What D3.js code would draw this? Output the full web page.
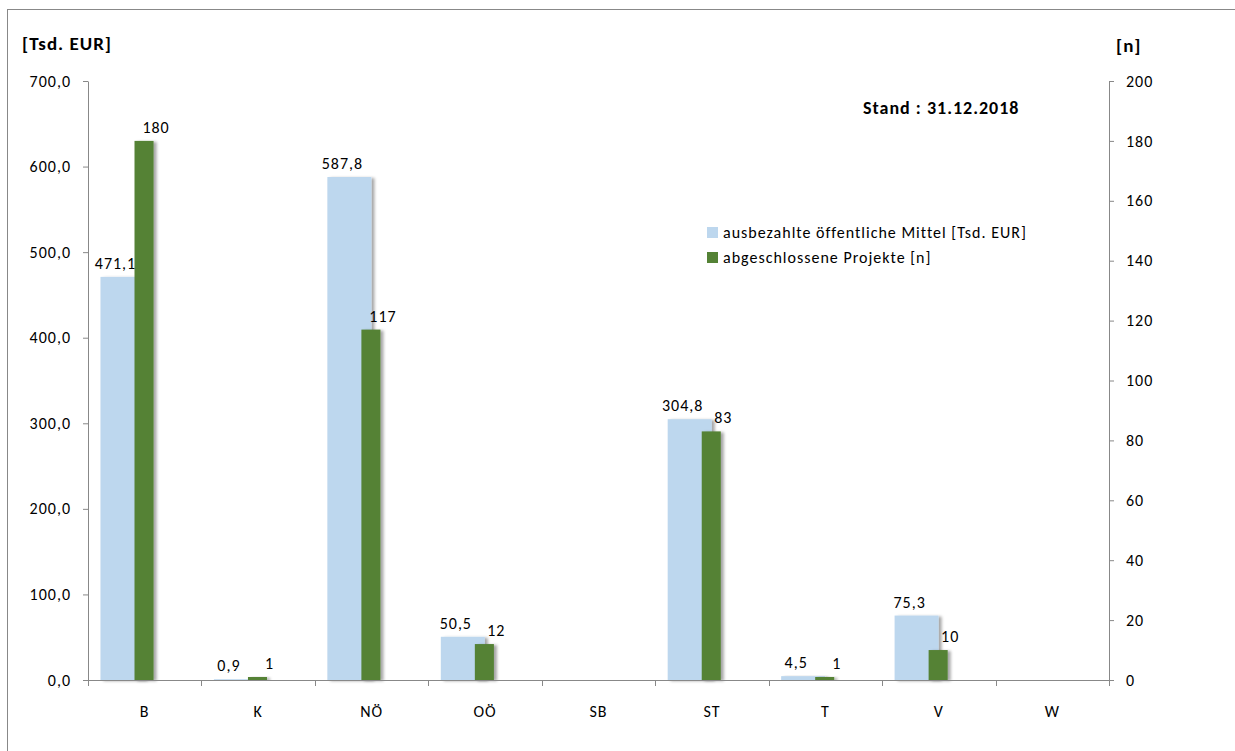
<!DOCTYPE html>
<html>
<head>
<meta charset="utf-8">
<script src="https://cdn.jsdelivr.net/npm/d3@7"></script>
<style>
  html, body { margin: 0; padding: 0; background: #fff; }
  svg { display: block; }
  text { font-family: Carlito, Calibri, Lato, "Open Sans", sans-serif; fill: #000; letter-spacing: 1px; }
</style>
</head>
<body>
<svg id="chart" width="1235" height="751"></svg>
<script>
// ---- data ----
const categories = ["B", "K", "NÖ", "OÖ", "SB", "ST", "T", "V", "W"];
const mittel = [471.1, 0.9, 587.8, 50.5, null, 304.8, 4.5, 75.3, null];   // Tsd. EUR (left axis)
const projekte = [180, 1, 117, 12, null, 83, 1, 10, null];                   // n (right axis)
const leftTicks = [0, 100, 200, 300, 400, 500, 600, 700];
const rightTicks = [0, 20, 40, 60, 80, 100, 120, 140, 160, 180, 200];
const seriesNames = ["ausbezahlte öffentliche Mittel [Tsd. EUR]", "abgeschlossene Projekte [n]"];
const leftTitle = "[Tsd. EUR]";
const rightTitle = "[n]";
const standText = "Stand : 31.12.2018";

// ---- layout / style ----
const colBlue = "#BDD7EE", colGreen = "#548235", axisCol = "#888888";
const plot = { left: 88, right: 1109, top: 81, bottom: 680 };
const fs = 16;

const de = d3.formatLocale({ decimal: ",", thousands: ".", grouping: [3], currency: ["", " €"] });
const f1 = de.format(".1f");
const f0 = de.format("d");

const svg = d3.select("#chart");

// drop shadow
const defs = svg.append("defs");
const flt = defs.append("filter").attr("id", "sh").attr("x", "-20%").attr("y", "-20%").attr("width", "160%").attr("height", "140%");
flt.append("feDropShadow").attr("dx", 3).attr("dy", 1).attr("stdDeviation", 1.6)
   .attr("flood-color", "#000").attr("flood-opacity", 0.35);

// outer frame
svg.append("rect").attr("x", 7.5).attr("y", 9.5).attr("width", 1250).attr("height", 760)
   .attr("fill", "none").attr("stroke", axisCol).attr("stroke-width", 1);

const x = d3.scaleBand().domain(categories).range([plot.left, plot.right]).padding(0);
const yL = d3.scaleLinear().domain([0, 700]).range([plot.bottom, plot.top]);
const yR = d3.scaleLinear().domain([0, 200]).range([plot.bottom, plot.top]);
const bw = x.bandwidth();

// bars
const blueX = c => x(c) + bw * 0.11;
const blueW = bw * 0.388;
const greenX = c => x(c) + bw * 0.41;
const greenW = bw * 0.168;

const gBars = svg.append("g");
const blueData = categories.map((c, i) => ({ c, v: mittel[i] })).filter(d => d.v != null);
const greenData = categories.map((c, i) => ({ c, v: projekte[i] })).filter(d => d.v != null);

gBars.selectAll("rect.b").data(blueData).join("rect").attr("class", "b")
  .attr("x", d => blueX(d.c)).attr("width", blueW)
  .attr("y", d => yL(d.v)).attr("height", d => plot.bottom - yL(d.v))
  .attr("fill", colBlue).attr("filter", "url(#sh)");

gBars.selectAll("rect.g").data(greenData).join("rect").attr("class", "g")
  .attr("x", d => greenX(d.c)).attr("width", greenW)
  .attr("y", d => yR(d.v)).attr("height", d => plot.bottom - yR(d.v))
  .attr("fill", colGreen).attr("filter", "url(#sh)");

// axes
const axL = d3.axisLeft(yL).tickValues(leftTicks).tickFormat(f1).tickSize(5).tickSizeOuter(0).tickPadding(12);
const gL = svg.append("g").attr("transform", `translate(${plot.left},0)`).call(axL);
const axR = d3.axisRight(yR).tickValues(rightTicks).tickFormat(f0).tickSize(5).tickSizeOuter(0).tickPadding(12);
const gR = svg.append("g").attr("transform", `translate(${plot.right},0)`).call(axR);

// x axis: line + boundary ticks + labels
const gX = svg.append("g");
gX.append("line").attr("x1", plot.left).attr("x2", plot.right).attr("y1", plot.bottom + 0.5).attr("y2", plot.bottom + 0.5)
  .attr("stroke", axisCol);
const bounds = categories.map(c => x(c)).concat([plot.right]);
gX.selectAll("line.t").data(bounds).join("line").attr("class", "t")
  .attr("x1", d => Math.round(d) + 0.5).attr("x2", d => Math.round(d) + 0.5)
  .attr("y1", plot.bottom).attr("y2", plot.bottom + 6).attr("stroke", axisCol);
gX.selectAll("text").data(categories).join("text")
  .attr("x", c => x(c) + bw / 2).attr("y", plot.bottom + 37)
  .attr("text-anchor", "middle").attr("font-size", fs).text(c => c);

[gL, gR].forEach(g => {
  g.attr("font-family", null).attr("font-size", null);
  g.select(".domain").attr("stroke", axisCol);
  g.selectAll(".tick line").attr("stroke", axisCol);
  g.selectAll(".tick text").attr("font-size", fs).attr("fill", "#000");
});

// data labels
svg.append("g").selectAll("text").data(blueData).join("text")
  .attr("x", d => blueX(d.c) + blueW / 2 - 7).attr("y", d => yL(d.v) - 8)
  .attr("text-anchor", "middle").attr("font-size", fs).text(d => f1(d.v));
svg.append("g").selectAll("text").data(greenData).join("text")
  .attr("x", d => greenX(d.c) + greenW / 2 + 12).attr("y", d => yR(d.v) - 8)
  .attr("text-anchor", "middle").attr("font-size", fs).text(d => f0(d.v));

// titles
svg.append("text").attr("x", 22).attr("y", 50).attr("font-size", 19).attr("font-weight", "bold").text(leftTitle);
svg.append("text").attr("x", 1116).attr("y", 52).attr("font-size", 19).attr("font-weight", "bold").text(rightTitle);
svg.append("text").attr("x", 863).attr("y", 114).attr("font-size", 18).attr("font-weight", "bold").text(standText);

// legend
const lg = svg.append("g");
const legCols = [colBlue, colGreen];
seriesNames.forEach((n, i) => {
  const cy = 232 + i * 25;
  lg.append("rect").attr("x", 707).attr("y", cy - 5).attr("width", 11).attr("height", 11).attr("fill", legCols[i]);
  lg.append("text").attr("x", 723).attr("y", cy).attr("dy", "0.35em").attr("font-size", fs).text(n);
});
</script>
</body>
</html>
